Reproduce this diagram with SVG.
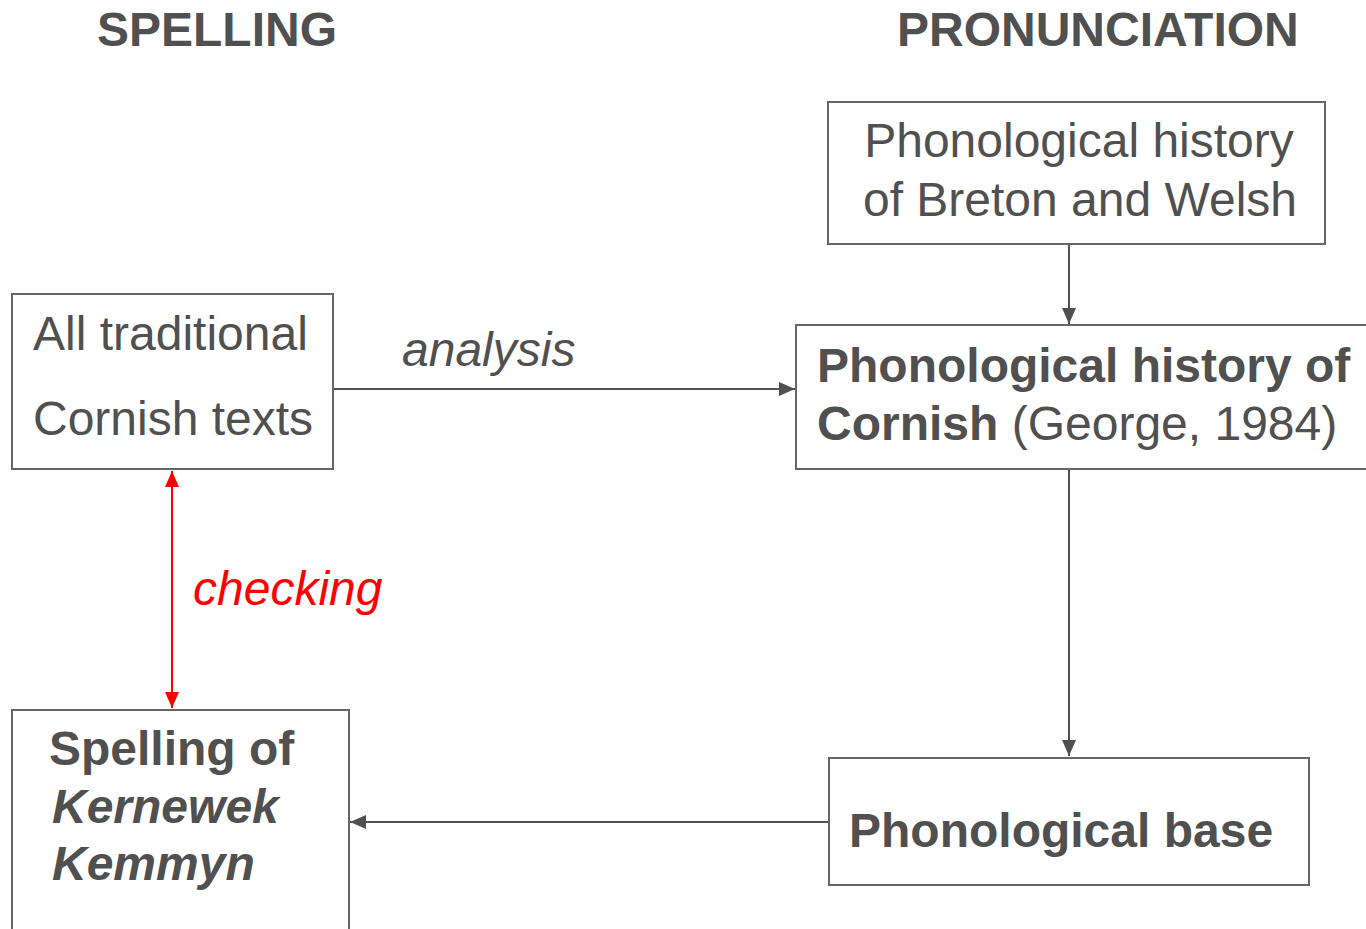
<svg xmlns="http://www.w3.org/2000/svg" width="1366" height="929" viewBox="0 0 1366 929">
<style>
text{font-family:"Liberation Sans",Arial,sans-serif;font-size:48px;fill:#505050}
.b{font-weight:bold}
.i{font-style:italic}
.box{fill:#fff;stroke:#666;stroke-width:2}
.c{stroke:#505050;stroke-width:2;fill:none}
.r{stroke:#f00;stroke-width:2;fill:none}
</style>
<defs>
<marker id="ah" viewBox="0 0 16 14" refX="16" refY="7" markerWidth="16" markerHeight="14" markerUnits="userSpaceOnUse" orient="auto"><path d="M0,0L16,7L0,14z" fill="#505050"/></marker>
<marker id="rh" viewBox="0 0 16 14" refX="16" refY="7" markerWidth="16" markerHeight="14" markerUnits="userSpaceOnUse" orient="auto-start-reverse"><path d="M0,0L16,7L0,14z" fill="#f00"/></marker>
</defs>
<rect width="1366" height="929" fill="#fff"/>
<text class="b" x="97" y="46">SPELLING</text>
<text class="b" x="897" y="46">PRONUNCIATION</text>
<g id="connectors">
<line class="c" x1="1069" y1="245" x2="1069" y2="324" marker-end="url(#ah)"/>
<line class="c" x1="334" y1="389" x2="795" y2="389" marker-end="url(#ah)"/>
<line class="c" x1="1069" y1="470" x2="1069" y2="756" marker-end="url(#ah)"/>
<line class="c" x1="828" y1="822" x2="350" y2="822" marker-end="url(#ah)"/>
<line class="r" x1="172" y1="471" x2="172" y2="708" marker-start="url(#rh)" marker-end="url(#rh)"/>
<text class="i" x="402" y="366">analysis</text>
<text class="i" x="193" y="605" style="fill:#f00">checking</text>
</g>
<g id="breton">
<rect class="box" x="828" y="102" width="497" height="142"/>
<text x="1079" y="157" text-anchor="middle">Phonological history</text>
<text x="1080" y="216" text-anchor="middle">of Breton and Welsh</text>
</g>
<g id="texts">
<rect class="box" x="12" y="294" width="321" height="175"/>
<text x="33" y="350">All traditional</text>
<text x="33" y="435">Cornish texts</text>
</g>
<g id="cornish">
<rect class="box" x="796" y="325" width="580" height="144"/>
<text class="b" x="817" y="382">Phonological history of</text>
<text x="817" y="440"><tspan class="b">Cornish</tspan> (George, 1984)</text>
</g>
<g id="base">
<rect class="box" x="829" y="758" width="480" height="127"/>
<text class="b" x="849" y="847">Phonological base</text>
</g>
<g id="spelling">
<rect class="box" x="12" y="710" width="337" height="240"/>
<text class="b" x="49" y="765">Spelling of</text>
<text class="b i" x="52" y="823">Kernewek</text>
<text class="b i" x="52" y="880">Kemmyn</text>
</g>
</svg>
